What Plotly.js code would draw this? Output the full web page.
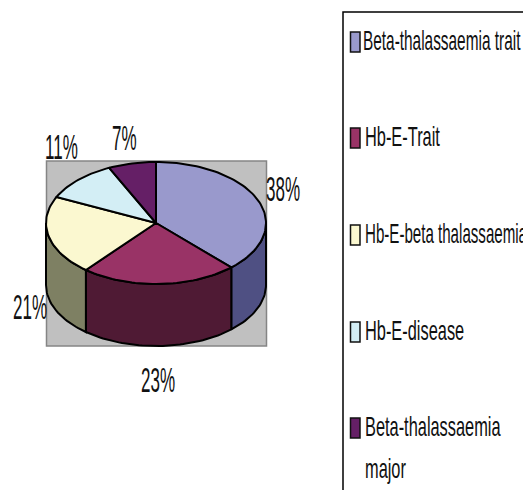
<!DOCTYPE html>
<html><head><meta charset="utf-8">
<script src="https://cdn.plot.ly/plotly-3.0.1.min.js"></script>
<style>
html,body{margin:0;padding:0;background:#fff}
.squeeze .textpoint text{transform-box:fill-box;transform-origin:left center;transform:scale(0.74,1.5)}
.squeeze .trace:last-child .textpoint text{transform:scale(0.84,1.45)}
.squeeze .trace:last-child .textpoint:nth-child(1) text{transform:scale(0.79,1.45)}
.squeeze .trace:last-child .textpoint:nth-child(3) text{transform:scale(0.775,1.45)}
</style></head>
<body><div id="chart" style="width:523px;height:490px"></div>
<script>
const categories=["Beta-thalassaemia trait","Hb-E-Trait","Hb-E-beta thalassaemia","Hb-E-disease","Beta-thalassaemia major"];
const shares=[38,23,21,11,7];
const topColors=["#9999cc","#993366","#fbf8d0","#d3eef5","#651f66"];
const sideColors=["#4f5083","#4f1a34","#7e8063","#6e7b80","#340f35"];
const legendLines=["Beta-thalassaemia trait","Hb-E-Trait","Hb-E-beta thalassaemia","Hb-E-disease","Beta-thalassaemia","major"];
const legendLineX=[363,365,365,365,365,365];
const legendLineY=[42,138,235,332,428,470];
const legendKeyY=[42,138,235,332,428];
const labelX=[266,141,13,45,112];
const labelY=[191,382,309,149,140];

const cx=156,cy=223,rx=110,ry=61,depth=62;
const rad=p=>p/100*2*Math.PI;
const px=p=>cx+rx*Math.sin(rad(p));
const py=p=>cy-ry*Math.cos(rad(p));
function arc(a,b){const n=Math.max(2,Math.ceil((b-a)*2)),o=[];
 for(let i=0;i<=n;i++)o.push(a+(b-a)*i/n);return o;}
const traces=[];
const line={color:"#000",width:2};
let start=0;const tops=[],sides=[];
shares.forEach((v,i)=>{
  const a=start,b=start+v;start=b;
  const pts=arc(a,b);
  tops.push({x:[cx,...pts.map(px),cx],y:[cy,...pts.map(py),cy],mode:"lines",fill:"toself",fillcolor:topColors[i],line,hoverinfo:"skip",showlegend:false});
  const s=Math.max(a,25),e=Math.min(b,75);
  if(e>s){const q=arc(s,e);
    sides.push({x:[...q.map(px),...q.slice().reverse().map(px),px(s)],
      y:[...q.map(py),...q.slice().reverse().map(p=>py(p)+depth),py(s)],
      mode:"lines",fill:"toself",fillcolor:sideColors[i],line,hoverinfo:"skip",showlegend:false});}
});
traces.push(...sides,...tops);
traces.push({x:labelX,y:labelY,text:shares.map(v=>v+"%"),mode:"text",textposition:"middle right",
  textfont:{family:"Liberation Sans",size:23,color:"#111"},hoverinfo:"skip",showlegend:false});
traces.push({x:legendLineX,y:legendLineY,text:legendLines,mode:"text",textposition:"middle right",
  textfont:{family:"Liberation Sans",size:19.5,color:"#111"},hoverinfo:"skip",showlegend:false});

const shapes=[
 {type:"rect",layer:"below",x0:46.5,x1:266.5,y0:161,y1:346,fillcolor:"#c0c0c0",line:{color:"#858585",width:1.5}},
 {type:"rect",layer:"below",x0:343,x1:540,y0:12,y1:500,fillcolor:"#fff",line:{color:"#000",width:1.5}}
];
legendKeyY.forEach((y,i)=>shapes.push({type:"rect",x0:350.5,x1:360,y0:y-10,y1:y+10,fillcolor:topColors[i],line:{color:"#111",width:1.5}}));

const layout={width:523,height:490,margin:{l:0,r:0,t:0,b:0},paper_bgcolor:"#fff",plot_bgcolor:"#fff",showlegend:false,
 xaxis:{range:[0,523],visible:false,fixedrange:true},
 yaxis:{range:[490,0],visible:false,fixedrange:true},shapes};
Plotly.newPlot("chart",traces,layout,{displayModeBar:false,staticPlot:true}).then(()=>{
  document.getElementById("chart").classList.add("squeeze");
});
</script></body></html>
